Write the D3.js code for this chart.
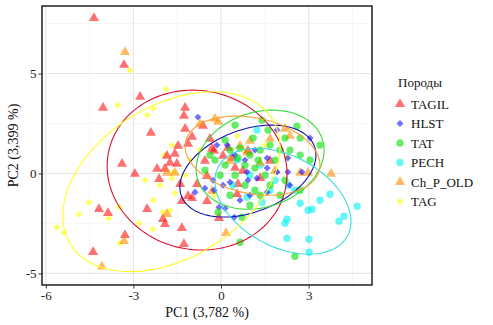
<!DOCTYPE html>
<html lang="ru">
<head>
  <meta charset="UTF-8">
  <title>PCA</title>
  <script src="https://d3js.org/d3.v7.min.js"></script>
  <style>
    body { margin: 0; background: #fff; }
    svg { display: block; }
    svg text { font-family: "Liberation Serif", "Times New Roman", "DejaVu Serif", serif; }
  </style>
</head>
<body>
  <svg id="chart" width="493" height="325"></svg>
  <script>
    // groups in legend order
    const groups = ["TAGIL", "HLST", "TAT", "PECH", "Ch_P_OLD", "TAG"];
    const pointColors = ["#FF1010", "#1010FF", "#00E000", "#00F0F0", "#FF8C00", "#FFFF00"];
    const lineColors = ["#D81030", "#1414A8", "#33DD33", "#33DDDD", "#F5A030", "#FFFF22"];
    const shapes = ["triangle", "diamond", "circle", "circle", "triangle", "diamond"];

    // PC1, PC2 scores
    const tagil = [[-4.35,7.82],[-3.32,5.47],[-2.77,3.87],[-4.04,3.32],[-2.40,2.07],[-1.23,3.32],[-1.27,2.92],
      [-1.23,2.27],[-0.99,1.87],[-1.47,1.42],[-1.13,1.52],[-1.85,0.92],[-1.58,1.02],[-1.75,0.57],[-1.51,0.52],
      [-1.92,0.27],[-2.19,0.27],[-2.12,-0.24],[-1.40,-0.49],[-0.99,-1.19],[-1.34,-1.34],[-1.92,-2.49],[-1.34,-2.69],
      [-1.27,-3.49],[-3.39,0.52],[-2.95,0.02],[-4.18,-1.74],[-3.87,-1.94],[-2.53,-1.74],[-3.29,-3.04],[-4.38,-3.89],
      [-0.62,2.42],[-0.38,1.77],[-0.31,1.27],[-0.55,0.67],[-0.48,-0.09],[-0.82,-0.49],[-0.48,-1.34],[0.38,0.82],
      [0.48,0.32],[0.75,0.17],[0.58,-0.49],[0.55,-0.99],[-0.07,-2.19],[-0.24,1.17],[1.34,-0.19],[-1.99,-2.24],
      [-1.13,-1.09],[0.07,0.92],[0.24,1.32],[0.92,1.17],[1.68,0.67]];
    const hlst = [[-0.79,2.82],[3.05,1.77],[1.92,2.17],[-0.14,1.42],[0.21,1.42],[2.29,0.77],[1.58,0.77],[1.58,0.27],
      [1.92,0.07],[2.29,0.07],[1.23,-0.24],[0.89,0.07],[0.92,-0.34],[0.31,-0.44],[0.07,-0.59],[-0.27,-0.34],
      [-0.55,-0.74],[-0.89,-0.94],[-0.24,-0.84],[-0.07,-1.69],[0.14,-1.74],[0.45,-2.19],[1.58,-0.94],[2.77,0.07],
      [0.82,0.67],[1.16,1.17],[0.48,0.92],[2.36,-0.59],[0.99,-1.09],[0.65,-1.34]];
    const tat = [[1.40,2.67],[2.60,2.37],[1.61,2.17],[2.19,1.77],[2.71,1.77],[0.48,2.42],[1.10,1.77],[0.65,-3.44],
      [2.53,-4.14],[0.72,-2.19],[-0.10,-1.94],[0.99,-1.59],[0.31,1.17],[0.65,1.27],[0.99,0.92],[1.34,1.17],
      [0.82,0.42],[1.16,0.27],[1.51,-0.09],[1.85,0.67],[2.02,1.17],[0.14,0.42],[0.48,-0.09],[0.82,-0.59],
      [1.16,-0.84],[1.68,-0.59],[2.36,1.17],[2.71,0.92],[3.05,0.67],[-0.21,0.67],[-0.03,-0.09],[-0.55,0.17],
      [-0.38,0.92],[1.34,-1.09],[2.02,-1.09],[0.31,-1.09],[2.71,-0.84],[2.19,-0.34],[1.68,1.42],[0.14,1.67],
      [1.27,0.67],[0.58,0.77],[3.39,1.42]];
    const pech = [[1.23,2.17],[3.73,-1.04],[4.66,-1.64],[2.71,-1.49],[2.98,-1.84],[3.12,-1.79],[4.21,-2.14],
      [4.04,-2.39],[2.26,-2.29],[2.19,-2.49],[2.26,-3.24],[3.01,-3.29],[3.01,-3.94],[0.89,-1.19],[1.40,-1.44],
      [0.41,-0.59],[2.29,-0.59],[0.99,-0.09],[1.85,-0.34],[1.34,0.42],[0.55,0.67],[1.68,-0.84],[3.39,-1.34],
      [2.53,-0.84]];
    const chPOld = [[-3.29,6.12],[-3.32,-3.34],[-4.08,-4.62],[-1.85,-1.99],[-0.21,2.77],[-0.10,2.62],[-0.72,2.52],
      [1.68,1.77],[3.77,0.02],[0.17,-2.94],[-1.85,0.07],[-1.58,0.07],[0.92,1.07],[1.34,0.57],[2.71,0.07],
      [2.98,0.07],[0.65,1.42],[2.36,1.92],[0.99,1.67],[1.85,0.17],[0.31,0.67],[-0.31,-0.84],[2.19,2.27]];
    const tag = [[-3.12,5.17],[-3.53,3.42],[-1.88,4.22],[-2.33,3.27],[-2.53,2.92],[-1.68,1.42],[-4.52,-1.44],
      [-4.86,-2.04],[-5.62,-2.69],[-5.38,-2.94],[-3.84,-2.24],[-3.49,-1.69],[-2.81,-2.49],[-3.46,-3.49],
      [-2.33,-1.34],[-1.99,-1.94],[-1.75,-1.84],[-2.33,-2.79],[-1.58,-0.99],[-1.68,-0.24],[-1.95,0.92],
      [-1.64,0.07],[0.55,1.87],[2.26,0.82],[-0.72,1.17],[-1.06,0.67],[-2.09,-0.59],[-2.60,-0.34],[-0.21,-1.09],
      [0.75,1.17],[1.51,1.42],[-1.23,-0.09]];
    const groupData = [tagil, hlst, tat, pech, chPOld, tag];

    // ellipse per group: centre, half extents, correlation
    const ellCx = [-0.82, 0.92, 1.34, 2.12, 1.08, -1.70];
    const ellCy = [0.17, 0.12, 0.69, -1.39, 0.89, -0.41];
    const ellW = [3.08, 2.33, 2.19, 2.33, 2.31, 3.72];
    const ellH = [4.0, 2.3, 2.48, 2.65, 1.98, 4.5];
    const ellRho = [-0.05, 0.35, 0.19, -0.38, -0.24, 0.38];

    const xTicks = [-6, -3, 0, 3];
    const yTicks = [-5, 0, 5];
    const xMinor = [-4.5, -1.5, 1.5, 4.5];
    const yMinor = [-2.5, 2.5, 7.5];

    const serif = "'Liberation Serif', 'Times New Roman', 'DejaVu Serif', serif";
    const pL = 42, pR = 372, pT = 6, pB = 285;
    const svg = d3.select("#chart");
    const x = d3.scaleLinear().domain([-6.13, 5.17]).range([pL, pR]);
    const y = d3.scaleLinear().domain([-5.58, 8.38]).range([pB, pT]);

    // grid
    const grid = svg.append("g");
    grid.selectAll(".vmin").data(xMinor).enter().append("line")
      .attr("x1", d => x(d)).attr("x2", d => x(d)).attr("y1", pT).attr("y2", pB)
      .attr("stroke", "#F0F0F0").attr("stroke-width", 0.6);
    grid.selectAll(".hmin").data(yMinor).enter().append("line")
      .attr("y1", d => y(d)).attr("y2", d => y(d)).attr("x1", pL).attr("x2", pR)
      .attr("stroke", "#F0F0F0").attr("stroke-width", 0.6);
    grid.selectAll(".vmaj").data(xTicks).enter().append("line")
      .attr("x1", d => x(d)).attr("x2", d => x(d)).attr("y1", pT).attr("y2", pB)
      .attr("stroke", "#E6E6E6").attr("stroke-width", 1.1);
    grid.selectAll(".hmaj").data(yTicks).enter().append("line")
      .attr("y1", d => y(d)).attr("y2", d => y(d)).attr("x1", pL).attr("x2", pR)
      .attr("stroke", "#E6E6E6").attr("stroke-width", 1.1);

    function symbolPath(shape) {
      if (shape === "triangle") return d3.symbol(d3.symbolTriangle, 44)();
      if (shape === "circle") return d3.symbol(d3.symbolCircle, 42)();
      return d3.symbol(d3.symbolSquare, 24)();
    }
    function symbolTransform(shape, px, py) {
      return shape === "diamond" ? `translate(${px},${py}) rotate(45)` : `translate(${px},${py})`;
    }

    // points
    const drawOrder = [5, 0, 3, 4, 1, 2];
    drawOrder.forEach(gi => {
      svg.append("g").selectAll("path").data(groupData[gi]).enter().append("path")
        .attr("d", symbolPath(shapes[gi]))
        .attr("transform", d => symbolTransform(shapes[gi], x(d[0]), y(d[1]) + (shapes[gi] === "triangle" ? 0.8 : 0)))
        .attr("fill", pointColors[gi])
        .attr("fill-opacity", 0.6);
    });

    // ellipses
    const angles = d3.range(0, 2 * Math.PI, Math.PI / 60);
    const line = d3.line().x(d => x(d[0])).y(d => y(d[1])).curve(d3.curveLinearClosed);
    groups.forEach((g, i) => {
      const s = Math.sqrt(1 - ellRho[i] * ellRho[i]);
      const pts = angles.map(t => [
        ellCx[i] + ellW[i] * Math.cos(t),
        ellCy[i] + ellH[i] * (ellRho[i] * Math.cos(t) + s * Math.sin(t))
      ]);
      svg.append("path").attr("d", line(pts))
        .attr("fill", "none").attr("stroke", lineColors[i]).attr("stroke-width", 1.1);
    });

    // panel border
    svg.append("rect").attr("x", pL).attr("y", pT)
      .attr("width", pR - pL).attr("height", pB - pT)
      .attr("fill", "none").attr("stroke", "#111").attr("stroke-width", 1.4);

    // axes
    const xAxis = svg.append("g").attr("transform", `translate(0,${pB})`)
      .call(d3.axisBottom(x).tickValues(xTicks).tickSize(3.5).tickPadding(2).tickFormat(d3.format("d")));
    const yAxis = svg.append("g").attr("transform", `translate(${pL},0)`)
      .call(d3.axisLeft(y).tickValues(yTicks).tickSize(3.5).tickPadding(2).tickFormat(d3.format("d")));
    [xAxis, yAxis].forEach(a => {
      a.attr("font-family", serif).attr("font-size", 13);
      a.select(".domain").remove();
      a.selectAll(".tick line").attr("stroke", "#333");
      a.selectAll(".tick text").attr("fill", "#222").text(d => String(d));
    });

    svg.append("text").attr("x", (pL + pR) / 2).attr("y", 317)
      .attr("text-anchor", "middle").attr("font-family", serif).attr("font-size", 14).attr("fill", "#111")
      .text("PC1 (3,782 %)");
    svg.append("text")
      .attr("transform", `translate(18,${(pT + pB) / 2}) rotate(-90)`)
      .attr("text-anchor", "middle").attr("font-family", serif).attr("font-size", 14).attr("fill", "#111")
      .text("PC2 (3,399 %)");

    // legend
    const legend = svg.append("g").attr("transform", "translate(398,0)")
      .attr("font-family", serif).attr("font-size", 13);
    legend.append("text").attr("x", 0).attr("y", 87).attr("fill", "#111").text("Породы");
    groups.forEach((g, i) => {
      const ly = 104 + i * 19.5;
      legend.append("path").attr("d", symbolPath(shapes[i]))
        .attr("transform", symbolTransform(shapes[i], 2, ly))
        .attr("fill", pointColors[i]).attr("fill-opacity", 0.6);
      legend.append("text").attr("x", 13).attr("y", ly + 4.5)
        .attr("fill", "#111").text(g);
    });
  </script>
</body>
</html>
